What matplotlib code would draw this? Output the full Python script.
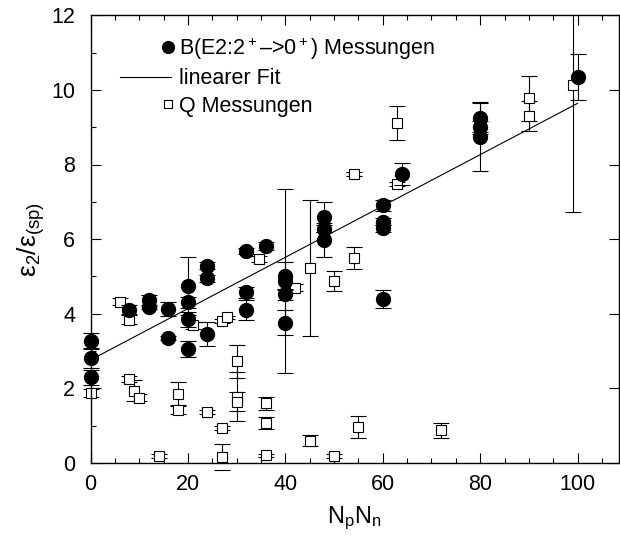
import matplotlib
matplotlib.use("Agg")
import matplotlib.pyplot as plt
from matplotlib.lines import Line2D
from matplotlib.legend_handler import HandlerLine2DCompound
from matplotlib.ticker import MultipleLocator

plt.rcParams['font.family'] = ['Liberation Sans', 'DejaVu Sans']
plt.rcParams['mathtext.fontset'] = 'custom'
plt.rcParams['mathtext.rm'] = 'Liberation Sans'
plt.rcParams['mathtext.it'] = 'Liberation Sans'

# B(E2) measurements
be2_x = [0, 0, 0, 8, 12, 12, 16, 16, 20, 20, 20, 20, 24, 24, 24, 32, 32, 32, 36,
         40, 40, 40, 40, 48, 48, 48, 60, 60, 60, 60, 64, 80, 80, 80, 100]
be2_y = [3.28, 2.80, 2.30, 4.10, 4.36, 4.17, 4.13, 3.35, 4.74, 4.31, 3.85, 3.06,
         5.29, 4.95, 3.46, 5.68, 4.57, 4.10, 5.82, 5.01, 4.87, 4.52, 3.76,
         6.60, 6.28, 5.98, 6.91, 6.47, 6.29, 4.39, 7.75, 9.24, 9.01, 8.75, 10.35]
be2_err = [0.20, 0.25, 0.20, 0.12, 0.15, 0.05, 0.18, 0.05, 0.78, 0.15, 0.20, 0.22,
           0.10, 0.10, 0.32, 0.08, 0.15, 0.28, 0.10, 0.38, 2.47, 0.15, 0.34,
           0.40, 0.10, 0.45, 0.15, 0.10, 0.10, 0.25, 0.30, 0.42, 0.15, 0.92, 0.62]

# Q measurements
q_x = [0, 6, 8, 8, 9, 10, 14, 18, 18, 21, 24, 27, 27, 27, 28, 30, 30, 30, 34.5,
       36, 36, 36, 42, 45, 45, 50, 50, 54, 54, 55, 63, 63, 72, 90, 90, 99]
q_y = [1.87, 4.32, 3.84, 2.25, 1.93, 1.75, 0.19, 1.84, 1.43, 3.69, 1.36, 0.94,
       0.16, 3.81, 3.90, 2.72, 1.78, 1.64, 5.46, 1.60, 1.06, 0.20, 4.70, 5.23,
       0.60, 4.87, 0.19, 5.50, 7.74, 0.97, 9.11, 7.47, 0.88, 9.77, 9.31, 10.13]
q_err = [0.10, 0.10, 0.12, 0.08, 0.28, 0.10, 0.05, 0.32, 0.13, 0.10, 0.05, 0.06,
         0.35, 0.05, 0.05, 0.45, 0.67, 0.25, 0.08, 0.18, 0.16, 0.05, 0.10, 1.82,
         0.16, 0.27, 0.05, 0.30, 0.05, 0.29, 0.46, 0.05, 0.20, 0.60, 0.40, 3.41]

# linear fit
fit_x = [0, 100]
fit_y = [2.76, 9.64]

fig = plt.figure(figsize=(6.2, 5.36), dpi=100)
ax = fig.add_axes([90.5 / 620, 73.1 / 536, 528.5 / 620, 447.6 / 536])

q_cont = ax.errorbar(q_x, q_y, yerr=q_err, fmt='s', ms=7, mfc='white', mec='black',
                     mew=0.8, ecolor='black', elinewidth=0.8, capsize=5.5,
                     capthick=0.8, zorder=2)
b_cont = ax.errorbar(be2_x, be2_y, yerr=be2_err, fmt='o', ms=10, mfc='black',
                     mec='black', ecolor='black', elinewidth=0.8, capsize=5.5,
                     capthick=0.8, zorder=3)
for cont in (q_cont, b_cont):
    dl, caps, bars = cont.lines
    dl.set_clip_on(False)
    for c in caps:
        c.set_clip_on(False)
for b in b_cont.lines[2]:
    b.set_clip_on(False)
ax.plot(fit_x, fit_y, color='black', lw=0.8, zorder=4)

ax.set_xlim(0, 108.5)
ax.set_ylim(0, 12)
ax.xaxis.set_major_locator(MultipleLocator(20))
ax.xaxis.set_minor_locator(MultipleLocator(5))
ax.yaxis.set_major_locator(MultipleLocator(2))
ax.yaxis.set_minor_locator(MultipleLocator(1))
ax.tick_params(which='both', direction='in', top=True, right=True, width=0.8)
ax.tick_params(which='major', length=7, labelsize=15.5)
ax.tick_params(axis='x', which='major', pad=8)
ax.tick_params(axis='y', which='major', pad=11)
ax.tick_params(which='minor', length=3.5)
ax.tick_params(axis='y', which='minor', right=False)
for s in ax.spines.values():
    s.set_linewidth(1.0)

ax.set_xlabel(r'$\mathregular{N_pN_n}$', fontsize=17, labelpad=7)
ax.set_ylabel(r'$\mathregular{ε_2/ε_{(sp)}}$', fontsize=19)
ax.yaxis.set_label_coords(-0.082, 0.50)


class RightMarkerHandler(HandlerLine2DCompound):
    def get_xdata(self, legend, xdescent, ydescent, width, height, fontsize):
        xdata = [-xdescent, -xdescent + width]
        xdata_marker = [-xdescent + width - 2]
        return xdata, xdata_marker


h1 = Line2D([], [], ls='none', marker='o', ms=8.5, mfc='black', mec='black')
h2 = Line2D([], [], color='black', lw=0.8)
h3 = Line2D([], [], ls='none', marker='s', ms=6, mfc='white', mec='black', mew=0.8)
leg = ax.legend([h1, h2, h3],
                [r'B(E2:2$\mathregular{^+}$–>0$\mathregular{^+}$) Messungen',
                 'linearer Fit', 'Q Messungen'],
                loc='upper left', bbox_to_anchor=(0.040, 0.975), frameon=False,
                fontsize=15.5, handlelength=2.35, handletextpad=0.4,
                labelspacing=0.3, borderaxespad=0,
                handler_map={h1: RightMarkerHandler(),
                             h3: RightMarkerHandler()})

fig.savefig('out.png', dpi=100)
